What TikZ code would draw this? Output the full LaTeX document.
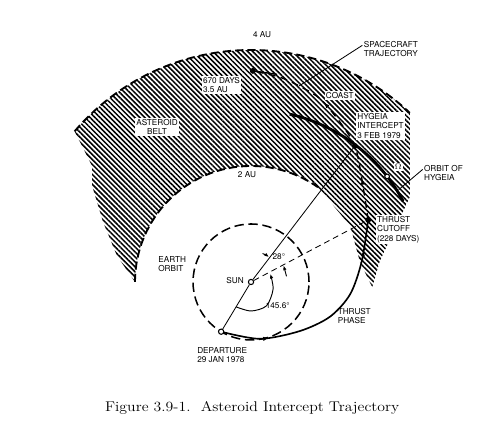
\documentclass[tikz,border=0pt]{standalone}
\usepackage{fontspec}
\setsansfont{TeX Gyre Heros}
\usepackage{tikz}
\usetikzlibrary{arrows.meta, patterns.meta, decorations.markings}

\begin{document}
\begin{tikzpicture}[x=1.74cm, y=1.74cm,
    lbl/.style={font=\sffamily\fontsize{7}{8}\selectfont, align=left, inner sep=1pt},
    boxlbl/.style={lbl, fill=white},
    beltedge/.style={line width=1.6pt, dash pattern=on 7pt off 3.5pt},
    opendot/.style={circle, draw, line width=0.9pt, fill=white, inner sep=0pt, minimum size=4.5pt},
    fulldot/.style={circle, fill, inner sep=0pt, minimum size=5pt},
    tinyarrow/.style={-{Latex[length=4pt, width=3pt]}, line width=0.8pt}]
    \useasboundingbox (-4.328,-2.638) rectangle (4.293,4.862);

    % Asteroid belt
    \fill[pattern={Lines[angle=-45, distance=3pt, line width=1.3pt]}]
        (139.5:4) arc[start angle=139.5, end angle=46.8, radius=4]
        -- (2.74,1.47) -- (2.22,0.36) -- (2.09,-0.09) -- (1.88,0.34) -- (1.71,0.97)
        -- (54.8:2) arc[start angle=54.8, end angle=180, radius=2]
        -- (-2.31,0.45) -- (-2.55,1.03) -- (-2.74,1.66) -- (-2.74,2.0) -- cycle;
    \draw[beltedge] (139.5:4) arc[start angle=139.5, end angle=46.8, radius=4];
    \draw[beltedge] (180:2) arc[start angle=180, end angle=54.8, radius=2];
    \node[lbl] (fouraulbl) at (0.19,4.26) {4 AU};
    \node[lbl] (twoaulbl) at (-0.07,1.86) {2 AU};
    \node[boxlbl, align=center] (beltlbl) at (-1.62,2.67) {ASTEROID\\BELT};

    % Earth orbit
    \draw[line width=1.3pt, dash pattern=on 8pt off 4pt] (0,0) circle[radius=1];
    \node[lbl] (earthlbl) at (-1.36,0.31) {EARTH\\ORBIT};

    % Points of the transfer
    \coordinate (dep) at (239:1);
    \coordinate (cut) at (2.02,1.07);
    \coordinate (icpt) at (1.79,2.345);
    \coordinate (aph) at (0.03,3.64);
    \coordinate (tjfoot) at (0.83,3.38);
    \coordinate (hyfoot) at (32:3.0);
    \node[opendot] (sun) at (0,0) {};

    % Radii
    \draw[line width=0.7pt] (dep) -- (sun) -- (icpt);
    \draw[line width=0.7pt, dash pattern=on 5pt off 3.5pt] (sun) -- (cut);

    % Angles
    \draw[tinyarrow] plot[smooth] coordinates {(239:0.5) (270:0.5) (303:0.49) (342:0.40) (23:0.36)};
    \node[lbl] (thrustang) at (0.46,-0.41) {145.6°};
    \draw[tinyarrow] (68:0.53) arc[start angle=68, end angle=54, radius=0.53];
    \draw[tinyarrow] (9:0.62) -- (27:0.63);
    \node[lbl] (coastang) at (0.48,0.43) {28°};

    % Thrust phase
    \draw[line width=1.4pt, postaction={decorate}, decoration={markings,
        mark=at position 0.22 with {\arrow{Latex[length=5pt]}},
        mark=at position 0.86 with {\arrow{Latex[length=5pt]}}}]
        plot[smooth] coordinates {(dep) (0.155,-0.98) (0.845,-0.845) (1.36,-0.60) (1.71,-0.21) (1.91,0.36) (cut)};
    \node[lbl] (thrustlbl) at (1.78,-0.59) {THRUST\\PHASE};

    % Coast
    \draw[line width=1.2pt, dash pattern=on 6pt off 4.5pt, postaction={decorate}, decoration={markings,
        mark=at position 0.2 with {\arrow{Latex[length=5pt]}},
        mark=at position 0.62 with {\arrow{Latex[length=5pt]}}}]
        plot[smooth] coordinates {(cut) (1.91,1.78) (icpt) (1.53,2.76) (1.19,3.16) (tjfoot) (0.5,3.53) (aph)};
    \draw[line width=1.2pt] (aph) -- (0.45,3.58);
    \node[boxlbl] (coastlbl) at (1.53,3.21) {COAST};

    % Orbit of Hygeia
    \draw[line width=2.4pt] (77:2.97) arc[start angle=77, end angle=28, radius=2.97];
    \node[opendot, minimum size=4pt] (nodept) at (37.8:2.97) {};
    \node[boxlbl] (omegalbl) at (2.54,1.98) {$\Omega$};

    % Dots
    \node[opendot] (depdot) at (dep) {};
    \node[fulldot] (cutdot) at (cut) {};
    \node[fulldot] (icptdot) at (icpt) {};
    \node[fulldot] (aphdot) at (aph) {};

    % Labels
    \node[lbl, anchor=east] (sunlbl) at (-0.1,0.03) {SUN};
    \node[lbl, anchor=west] (deplbl) at (-0.95,-1.26) {DEPARTURE\\29 JAN 1978};
    \node[boxlbl, anchor=west] (cutlbl) at (2.15,0.90) {THRUST\\CUTOFF\\(228 DAYS)};
    \node[boxlbl, anchor=west] (icptlbl) at (1.81,2.69) {HYGEIA\\INTERCEPT\\3 FEB 1979};
    \node[boxlbl, anchor=west] (aphlbl) at (-0.85,3.40) {670 DAYS\\3.5 AU};
    \node[lbl, anchor=west] (trajlbl) at (1.92,4.02) {SPACECRAFT\\TRAJECTORY};
    \draw[line width=0.7pt] ([yshift=3pt]trajlbl.west) -- (tjfoot);
    \node[lbl, anchor=west] (hyorblbl) at (2.96,1.88) {ORBIT OF\\HYGEIA};
    \draw[line width=0.7pt] ([yshift=3pt]hyorblbl.west) -- (hyfoot);

    % Caption
    \node[font=\fontsize{12}{14}\selectfont\addfontfeature{LetterSpace=22}, xscale=1.12, transform shape]
        (caption) at (0.02,-2.17) {Figure 3.9-1.\ \ Asteroid Intercept Trajectory};
\end{tikzpicture}
\end{document}
